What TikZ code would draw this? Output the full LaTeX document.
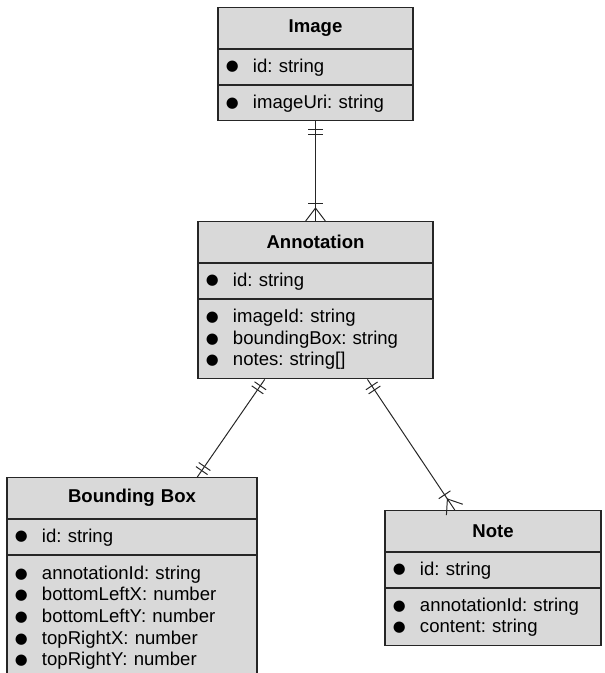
\documentclass[tikz,border=0pt]{standalone}
\usepackage{fontspec}
\setmainfont{Liberation Sans}
\newfontfamily\dotfont{DejaVu Sans}
\usetikzlibrary{positioning,calc,decorations.markings}
\newcommand{\attr}[1]{\makebox[19.2pt][l]{\raisebox{0.8pt}{\dotfont\fontsize{10.5}{10.5}\selectfont ●}}#1}
\frenchspacing
\tikzset{
	ent/.style={draw=black!85, fill=black!15, line width=0.8pt, inner xsep=0.2cm, inner ysep=0pt, font=\fontsize{13.2}{15.4}\selectfont},
	head/.style={ent, align=center, minimum height=1.025cm, font=\fontsize{13.2}{15.4}\selectfont\bfseries},
	field/.style={ent, align=left},
	tick/.style={draw=black!85, line width=0.7pt},
	rel/.style={draw=black!85, line width=0.7pt},
	oneStart/.style={postaction={decorate, decoration={markings,
		mark=at position 5.5pt with {\draw[tick] (0,-5pt) -- (0,5pt);},
		mark=at position 9pt with {\draw[tick] (0,-5pt) -- (0,5pt);}}}},
	oneEnd/.style={postaction={decorate, decoration={markings,
		mark=at position -5.5pt with {\draw[tick] (0,-5pt) -- (0,5pt);},
		mark=at position -9pt with {\draw[tick] (0,-5pt) -- (0,5pt);}}}},
	manyEnd/.style={postaction={decorate, decoration={markings,
		mark=at position 1 with {\draw[tick] (0,7pt) -- (-9.2pt,0) -- (0,-7pt); \draw[tick] (-12.8pt,-5pt) -- (-12.8pt,5pt);}}}}
}

\begin{document}
\begin{tikzpicture}[x=0.025cm, y=-0.025cm]
		%%%%% START %%%%%
		\clip (0,0) rectangle (605,673);
		
		% Image
		\node[head, text width=4.475cm, anchor=north] (imgTitle) at (315.5,7) {Image};
		\node[field, text width=4.475cm, minimum height=0.875cm, below=0pt of imgTitle] (imgId) {\attr{id: string}};
		\node[field, text width=4.475cm, minimum height=0.875cm, below=0pt of imgId] (imgAttr) {\attr{imageUri: string}};
		
		% Annotation
		\node[head, text width=5.475cm, anchor=north] (annTitle) at (315.5,221) {Annotation};
		\node[field, text width=5.475cm, minimum height=0.875cm, below=0pt of annTitle] (annId) {\attr{id: string}};
		\node[field, text width=5.475cm, minimum height=1.975cm, below=0pt of annId] (annAttr) {\attr{imageId: string}\\ \attr{boundingBox: string}\\ \attr{notes: string[]}};
		
		% Bounding Box
		\node[head, text width=5.85cm, anchor=north] (bbTitle) at (132,477) {Bounding Box};
		\node[field, text width=5.85cm, minimum height=0.875cm, below=0pt of bbTitle] (bbId) {\attr{id: string}};
		\node[field, text width=5.85cm, minimum height=3.1cm, below=0pt of bbId] (bbAttr) {\attr{annotationId: string}\\ \attr{bottomLeftX: number}\\ \attr{bottomLeftY: number}\\ \attr{topRightX: number}\\ \attr{topRightY: number}};
		
		% Note
		\node[head, text width=5.0cm, anchor=north] (noteTitle) at (493,510) {Note};
		\node[field, text width=5.0cm, minimum height=0.875cm, below=0pt of noteTitle] (noteId) {\attr{id: string}};
		\node[field, text width=5.0cm, minimum height=1.425cm, below=0pt of noteId] (noteAttr) {\attr{annotationId: string}\\ \attr{content: string}};
		
		% relations
		\draw[rel, oneStart, manyEnd] (imgAttr.south) -- (annTitle.north);
		\draw[rel, oneStart, oneEnd] ($(annAttr.south west)!0.285!(annAttr.south east)$) -- ($(bbTitle.north west)!0.76!(bbTitle.north east)$);
		\draw[rel, oneStart, manyEnd] ($(annAttr.south west)!0.72!(annAttr.south east)$) -- ($(noteTitle.north west)!0.324!(noteTitle.north east)$);
		
		%%%%% END %%%%%
\end{tikzpicture}
\end{document}
